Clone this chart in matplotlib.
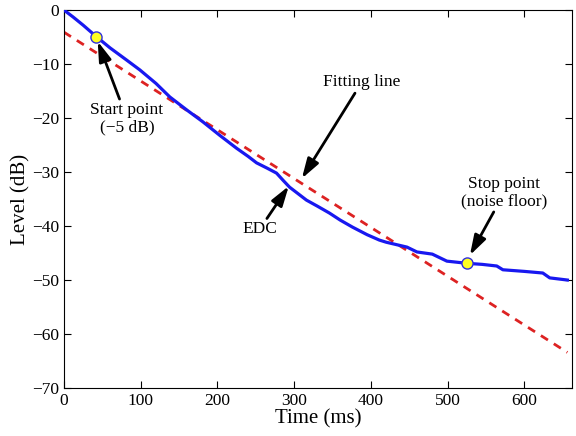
import numpy as np
import matplotlib
matplotlib.use('Agg')
import matplotlib.pyplot as plt

plt.rcParams['font.family'] = ['Liberation Serif', 'DejaVu Serif']

# energy decay curve (ms, dB)
edc_t = [0, 12, 25, 42, 60, 82, 99, 120, 138, 160, 181, 203, 225, 240, 251,
         265, 277, 286, 294, 305, 316, 330, 346, 360, 376, 395, 411, 420, 435,
         447, 460, 480, 499, 525, 545, 564, 572, 600, 624, 633, 656]
edc_db = [0, -1.3, -2.8, -4.9, -7.0, -9.3, -11.1, -13.6, -16.1, -18.5, -20.7,
          -23.2, -25.6, -27.1, -28.3, -29.3, -30.2, -31.6, -32.8, -34.0, -35.2,
          -36.3, -37.6, -38.9, -40.2, -41.6, -42.6, -43.0, -43.5, -43.9, -44.8,
          -45.2, -46.5, -46.9, -47.1, -47.4, -48.1, -48.4, -48.7, -49.6, -50.0]

# fitted line end points
fit_t = [0, 656]
fit_db = [-4.1, -63.4]

start_pt = (42, -5.0)
stop_pt = (525, -46.9)

fig = plt.figure(figsize=(5.76, 4.36), dpi=100)
ax = fig.add_axes([0.111, 0.110, 0.882, 0.867])

ax.plot(edc_t, edc_db, color='#1818f0', lw=2.3, zorder=3)
ax.plot(fit_t, fit_db, color='#dd2222', lw=2, ls=(0, (3, 2.5)), zorder=2)
for p in (start_pt, stop_pt):
    ax.plot(*p, 'o', ms=8, mfc='#ffff22', mec='#3030dd', mew=1, zorder=5)

arr = dict(arrowstyle='-|>,head_length=0.8,head_width=0.25', lw=2, color='k',
           mutation_scale=15, shrinkA=0, shrinkB=0)
ax.annotate('Start point\n(\u22125 dB)', xy=(44, -5.8), xytext=(82, -17.0),
            ha='center', va='top', fontsize=12.5, linespacing=1.1, arrowprops=arr)
ax.annotate('Fitting line', xy=(310, -31.2), xytext=(388, -13.4),
            ha='center', va='center', fontsize=12.5, arrowprops=arr)
ax.annotate('EDC', xy=(293, -32.6), xytext=(255, -40.6),
            ha='center', va='center', fontsize=12.5, arrowprops=arr)
ax.annotate('Stop point\n(noise floor)', xy=(529, -45.4), xytext=(574, -33.8),
            ha='center', va='center', fontsize=12.5, linespacing=1.1,
            arrowprops=arr)

ax.set_xlim(0, 662)
ax.set_ylim(-70, 0)
ax.set_xticks(np.arange(0, 700, 100))
ax.set_yticks(np.arange(-70, 10, 10))
ax.tick_params(direction='in', top=True, right=True, length=5, labelsize=12.5)
ax.set_xlabel('Time (ms)', fontsize=15, labelpad=0)
ax.set_ylabel('Level (dB)', fontsize=15, labelpad=1)

fig.savefig('out.png', dpi=100)
